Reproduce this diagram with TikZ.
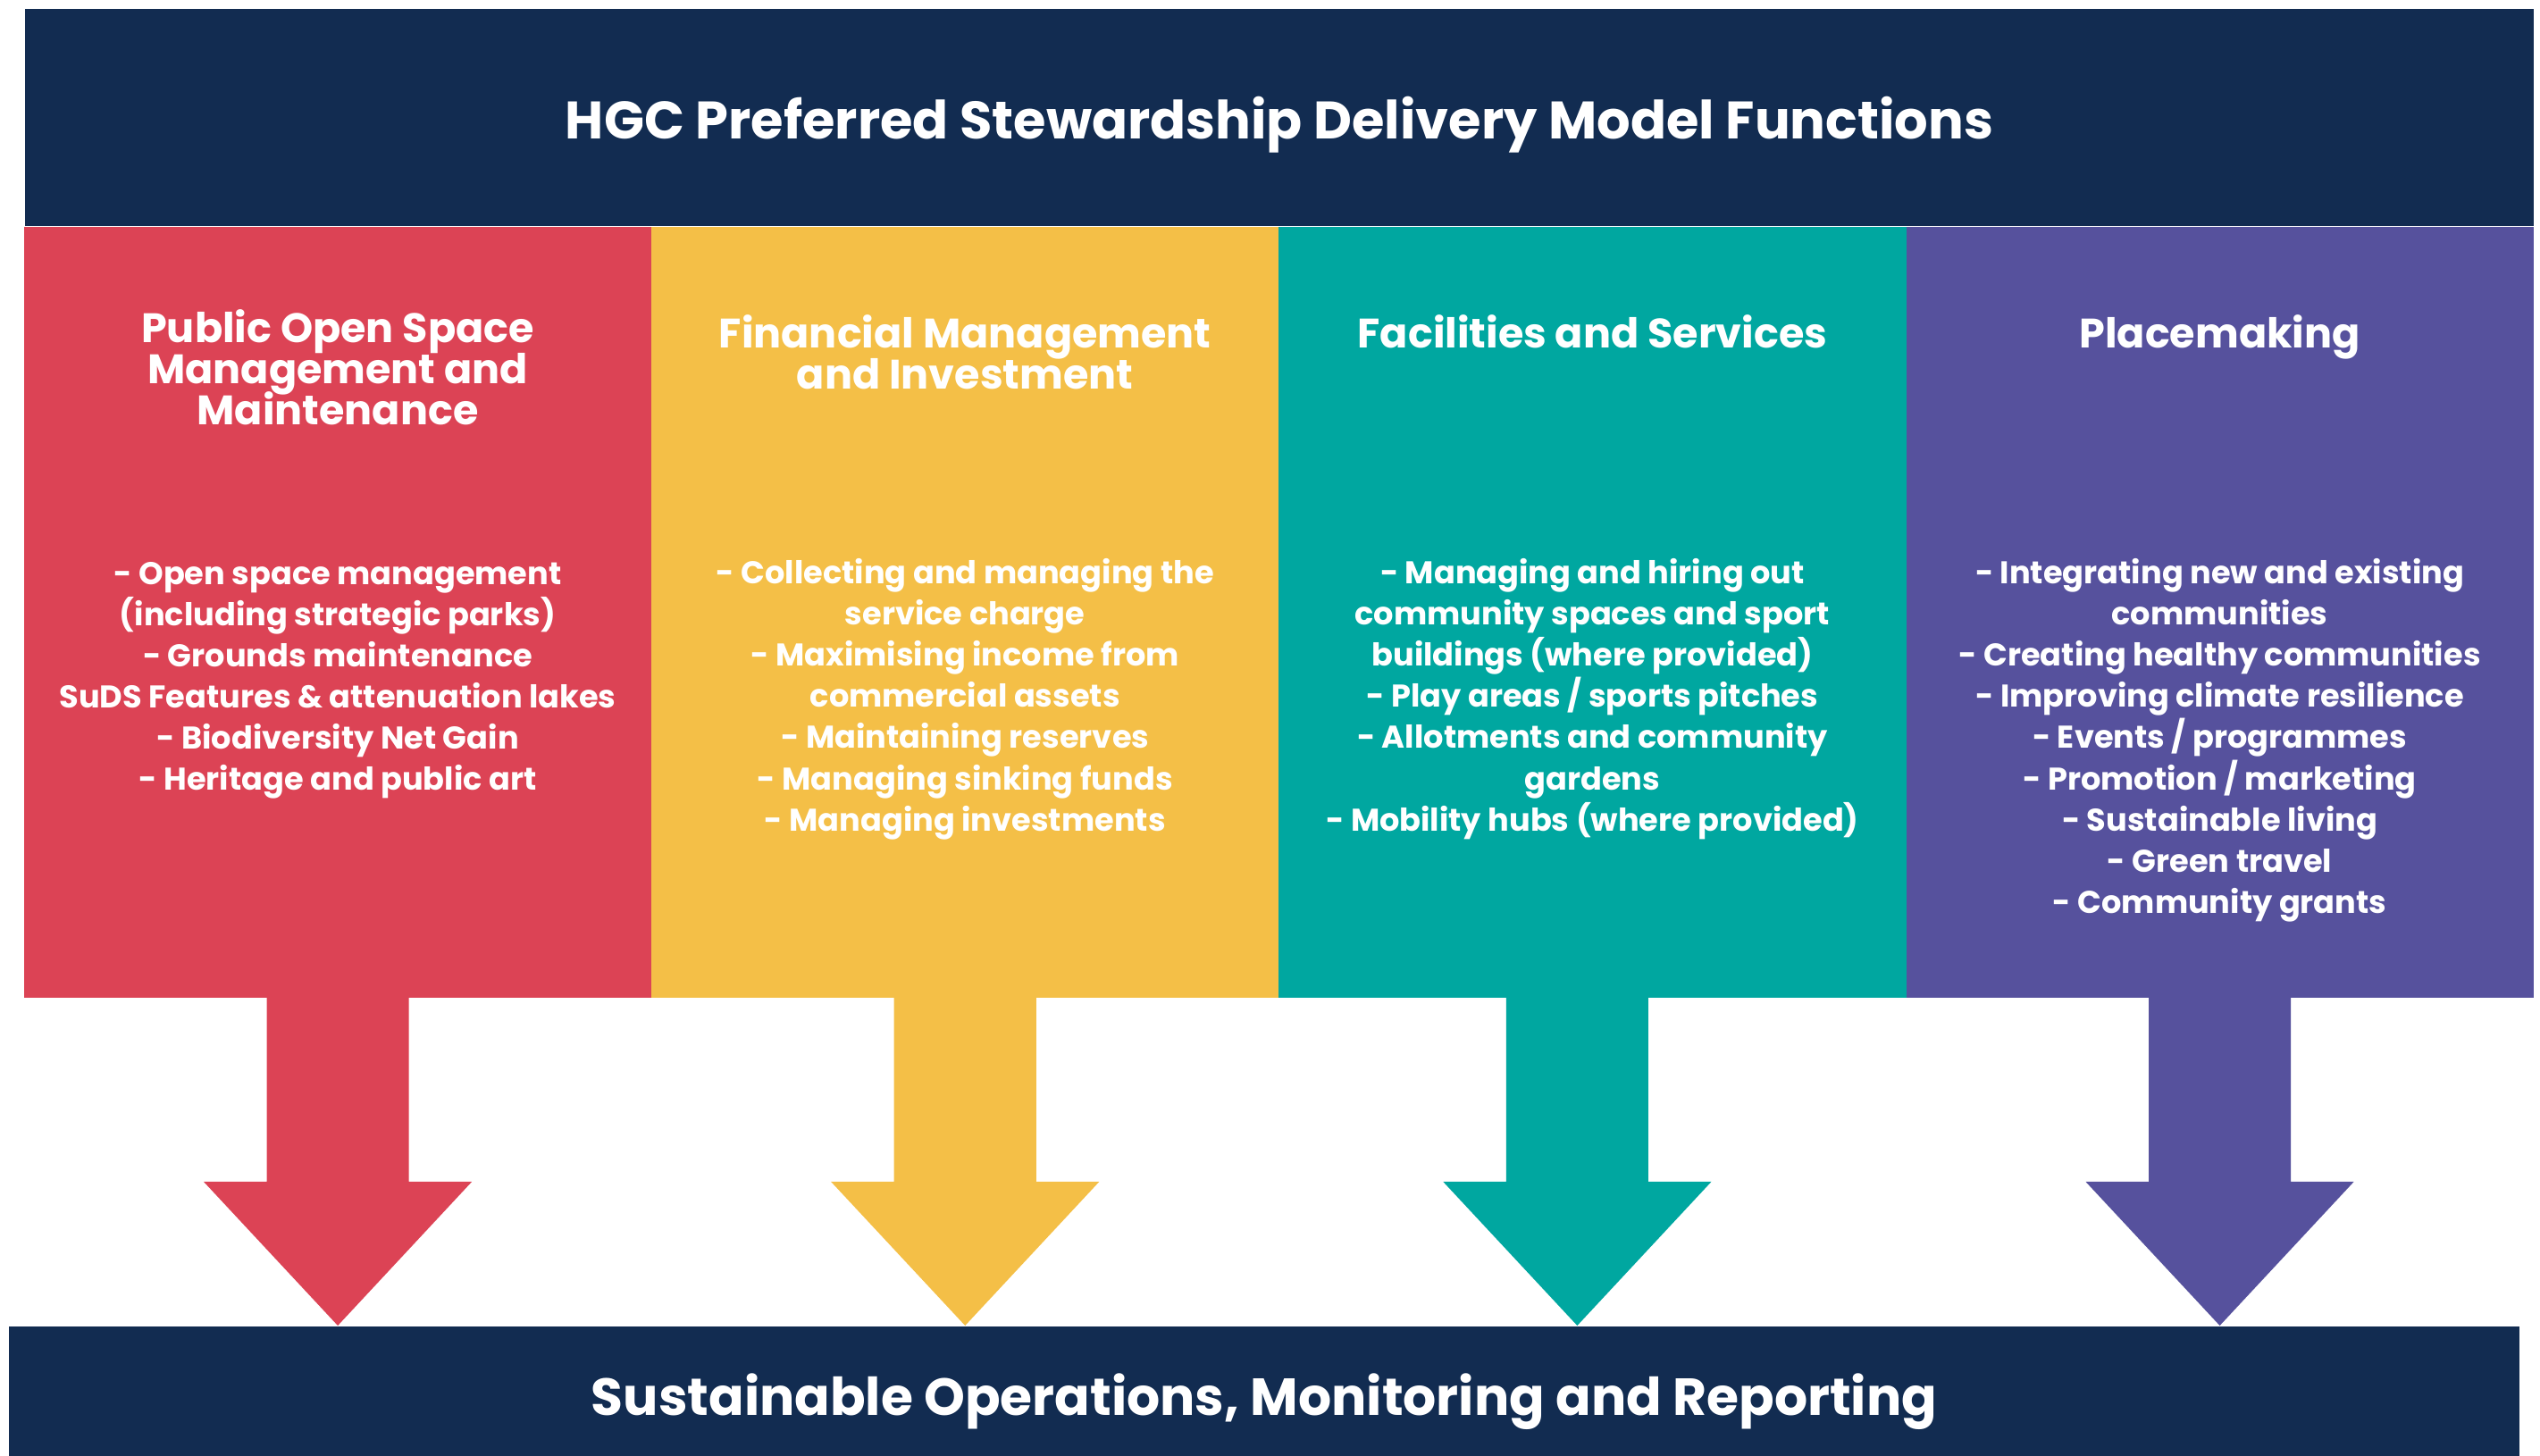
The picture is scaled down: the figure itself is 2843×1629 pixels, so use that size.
\documentclass[tikz,border=0pt]{standalone}
\usepackage{fontspec}
\setmainfont{Poppins}
\usetikzlibrary{positioning,calc}

\definecolor{navy}{RGB}{18,44,81}
\definecolor{poppy}{RGB}{220,67,85}
\definecolor{mustard}{RGB}{244,191,71}
\definecolor{lagoon}{RGB}{0,167,160}
\definecolor{iris}{RGB}{86,81,157}

\newcommand{\blockarrow}[3]{%
  \fill[#3] let \p1=(#1), \p2=(#1 |- #2.north) in
    (\x1-0.795cm,\y1+0.5pt) -- (\x1-0.795cm,\y2+1.61cm) -- (\x1-1.5cm,\y2+1.61cm) -- (\x1,\y2)
    -- (\x1+1.5cm,\y2+1.61cm) -- (\x1+0.795cm,\y2+1.61cm) -- (\x1+0.795cm,\y1+0.5pt) -- cycle;}

\begin{document}
\begin{tikzpicture}[x=0.01cm,y=-0.01cm,
  band/.style={fill=navy,text=white,inner sep=0,text depth=0pt},
  column/.style={minimum width=7.0175cm,minimum height=8.63cm,inner sep=0,outer sep=0},
  heading/.style={text=white,align=center,inner sep=0,font=\bfseries\fontsize{13.1}{13.1}\selectfont,
    execute at begin node={\lineskiplimit=-100pt\relax}},
  bullets/.style={text=white,align=center,inner sep=0,font=\bfseries\fontsize{10}{13.1}\selectfont,
    execute at begin node={\lineskiplimit=-100pt\relax}}]
  \useasboundingbox (0,0) rectangle (2843,1629);

  \node[band,font=\bfseries\fontsize{16.8}{20}\selectfont,text height=14pt,minimum width=28.07cm,minimum height=2.43cm,anchor=north west] (title) at (27,9)
    {HGC Preferred Stewardship Delivery Model Functions};

  \node[column,fill=poppy,anchor=north west] (c1) at (title.south west) {};
  \node[column,fill=mustard,right=0pt of c1] (c2) {};
  \node[column,fill=lagoon,right=0pt of c2] (c3) {};
  \node[column,fill=iris,right=0pt of c3] (c4) {};

  \node[heading,below=0.92cm of c1.north] (h1) {Public Open Space\\Management and\\Maintenance};
  \node[heading,below=0.98cm of c2.north] (h2) {Financial Management\\and Investment};
  \node[heading,below=0.98cm of c3.north] (h3) {Facilities and Services};
  \node[heading,below=0.98cm of c4.north] (h4) {Placemaking};

  \node[bullets,below=3.75cm of c1.north] (b1) {- Open space management\\(including strategic parks)\\- Grounds maintenance\\SuDS Features \& attenuation lakes\\- Biodiversity Net Gain\\- Heritage and public art};
  \node[bullets,below=3.71cm of c2.north] (b2) {- Collecting and managing the\\service charge\\- Maximising income from\\commercial assets\\- Maintaining reserves\\- Managing sinking funds\\- Managing investments};
  \node[bullets,below=3.71cm of c3.north] (b3) {- Managing and hiring out\\community spaces and sport\\buildings (where provided)\\- Play areas / sports pitches\\- Allotments and community\\gardens\\- Mobility hubs (where provided)};
  \node[bullets,below=3.71cm of c4.north] (b4) {- Integrating new and existing\\communities\\- Creating healthy communities\\- Improving climate resilience\\- Events / programmes\\- Promotion / marketing\\- Sustainable living\\- Green travel\\- Community grants};

  \node[band,font=\bfseries\fontsize{16.6}{20}\selectfont,text height=15.4pt,minimum width=28.09cm,minimum height=1.45cm,anchor=north west] (base) at (9,1484)
    {Sustainable Operations, Monitoring and Reporting};

  \coordinate (a3) at ([xshift=-0.17cm]c3.south);
  \blockarrow{c1.south}{base}{poppy}
  \blockarrow{c2.south}{base}{mustard}
  \blockarrow{a3}{base}{lagoon}
  \blockarrow{c4.south}{base}{iris}
\end{tikzpicture}
\end{document}
